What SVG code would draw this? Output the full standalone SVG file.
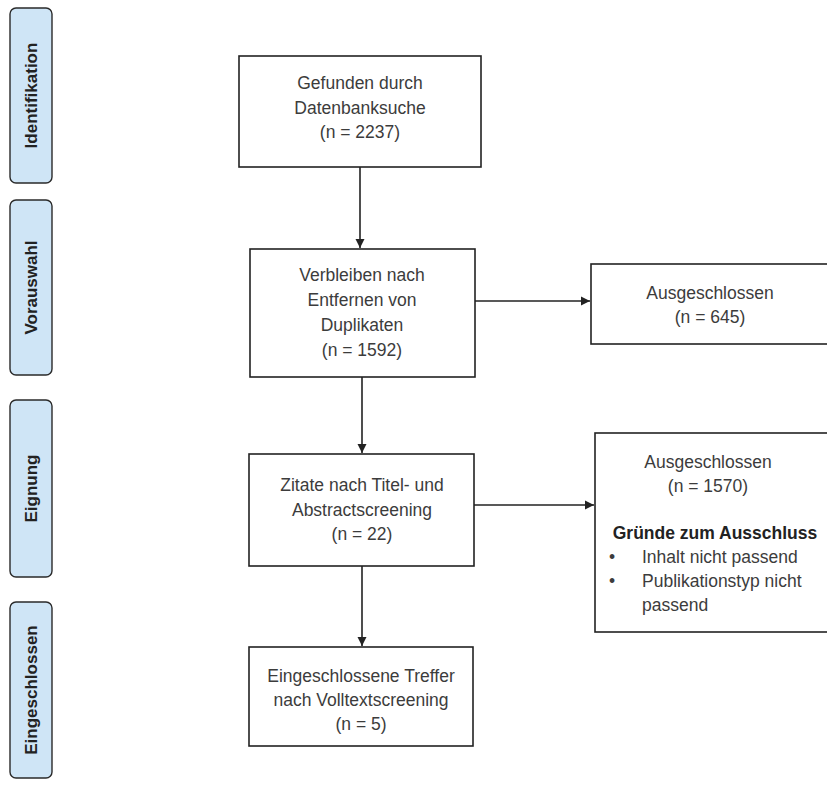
<svg xmlns="http://www.w3.org/2000/svg" width="827" height="791" viewBox="0 0 827 791">
<style>
.box{fill:#fff;stroke:#222;stroke-width:1.6}
.side{fill:#cfe5f6;stroke:#2a2a2a;stroke-width:1.4}
.t{font-family:"Liberation Sans",Arial,sans-serif;font-size:17.5px;fill:#3c3c3c;text-anchor:middle}
.tl{font-family:"Liberation Sans",Arial,sans-serif;font-size:17.5px;fill:#3c3c3c}
.b{font-weight:bold;fill:#222}
.s{font-family:"Liberation Sans",Arial,sans-serif;font-size:17px;font-weight:bold;fill:#222;text-anchor:middle}
.c{stroke:#222;stroke-width:1.6;fill:none;marker-end:url(#ah)}
</style>
<defs>
<marker id="ah" markerWidth="10" markerHeight="10" refX="9" refY="5" orient="auto" markerUnits="userSpaceOnUse">
<path d="M0,0.5 L9,5 L0,9.5 Z" fill="#222"/>
</marker>
</defs>
<rect width="827" height="791" fill="#fff"/>
<g id="phase-identifikation"><rect class="side" x="10" y="8" width="42" height="175" rx="6"/><text class="s" transform="translate(37,95.5) rotate(-90)">Identifikation</text></g>
<g id="phase-vorauswahl"><rect class="side" x="10" y="200" width="42" height="175" rx="6"/><text class="s" transform="translate(37,287.5) rotate(-90)">Vorauswahl</text></g>
<g id="phase-eignung"><rect class="side" x="10" y="400" width="42" height="177" rx="6"/><text class="s" transform="translate(37,488.5) rotate(-90)">Eignung</text></g>
<g id="phase-eingeschlossen"><rect class="side" x="10" y="602" width="42" height="176" rx="6"/><text class="s" transform="translate(37,690) rotate(-90)">Eingeschlossen</text></g>

<g id="n-gefunden"><rect class="box" x="239" y="56" width="242" height="111"/>
<text class="t" x="360" y="89">Gefunden durch</text>
<text class="t" x="360" y="113.5">Datenbanksuche</text>
<text class="t" x="360" y="138">(n = 2237)</text></g>

<g id="n-verbleiben"><rect class="box" x="250" y="249" width="225" height="128"/>
<text class="t" x="362" y="281">Verbleiben nach</text>
<text class="t" x="362" y="306">Entfernen von</text>
<text class="t" x="362" y="331">Duplikaten</text>
<text class="t" x="362" y="356">(n = 1592)</text></g>

<g id="n-ausg1"><rect class="box" x="591" y="264" width="250" height="80"/>
<text class="t" x="710" y="299">Ausgeschlossen</text>
<text class="t" x="710" y="323">(n = 645)</text></g>

<g id="n-zitate"><rect class="box" x="249" y="454" width="225" height="112"/>
<text class="t" x="362" y="491">Zitate nach Titel- und</text>
<text class="t" x="362" y="516">Abstractscreening</text>
<text class="t" x="362" y="540">(n = 22)</text></g>

<g id="n-ausg2"><rect class="box" x="595" y="433" width="245" height="199"/>
<text class="t" x="708" y="468">Ausgeschlossen</text>
<text class="t" x="708" y="492">(n = 1570)</text>
<text class="t b" x="715" y="539">Gründe zum Ausschluss</text>
<text class="tl" x="609" y="563">•</text>
<text class="tl" x="642" y="563">Inhalt nicht passend</text>
<text class="tl" x="609" y="587">•</text>
<text class="tl" x="642" y="587">Publikationstyp nicht</text>
<text class="tl" x="642" y="611">passend</text></g>

<g id="n-eingeschlossen"><rect class="box" x="249" y="647" width="224" height="99"/>
<text class="t" x="361" y="682">Eingeschlossene Treffer</text>
<text class="t" x="361" y="706">nach Volltextscreening</text>
<text class="t" x="361" y="730">(n = 5)</text></g>

<g id="connectors">
<line class="c" x1="360" y1="167" x2="360" y2="248"/>
<line class="c" x1="475" y1="301" x2="590" y2="301"/>
<line class="c" x1="362" y1="377" x2="362" y2="453"/>
<line class="c" x1="474" y1="505" x2="594" y2="505"/>
<line class="c" x1="362" y1="566" x2="362" y2="646"/>
</g>
</svg>
